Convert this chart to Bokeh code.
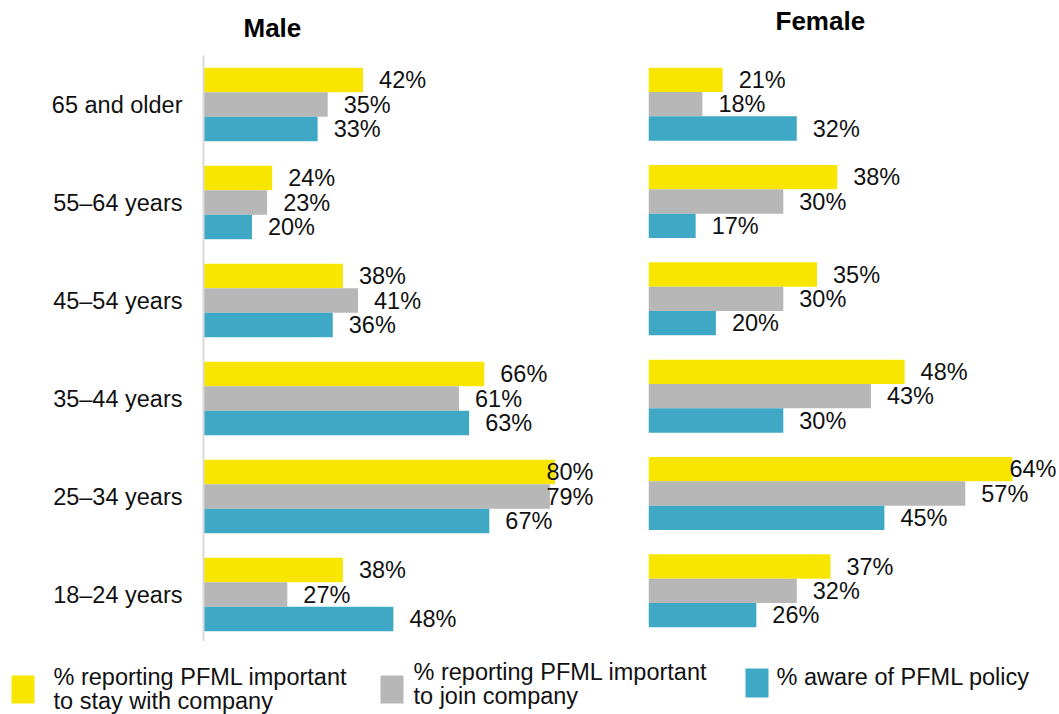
from bokeh.plotting import figure
from bokeh.models import ColumnDataSource, Range1d, FactorRange
from bokeh.layouts import row, column
from bokeh.transform import dodge
from bokeh.embed import file_html
from bokeh.resources import INLINE
from bokeh.core.properties import value, field

# ---------------- data ----------------
age_groups = ["18–24 years", "25–34 years", "35–44 years",
              "45–54 years", "55–64 years", "65 and older"]

panel_titles = ["Male", "Female"]

series_lines = [
    ["% reporting PFML important", "to stay with company"],
    ["% reporting PFML important", "to join company"],
    ["% aware of PFML policy"],
]
series_colors = ["#F9E600", "#B7B7B7", "#3FA9C5"]

male_stay = [38, 80, 66, 38, 24, 42]
male_join = [27, 79, 61, 41, 23, 35]
male_aware = [48, 67, 63, 36, 20, 33]

female_stay = [37, 64, 48, 35, 38, 21]
female_join = [32, 57, 43, 30, 30, 18]
female_aware = [26, 45, 30, 20, 17, 32]

FONT = "Liberation Sans"
TEXT = "#111111"
FS = "23.5px"
TOTAL_W = 1057


def bare(p):
    p.outline_line_color = None
    p.xgrid.visible = False
    p.ygrid.visible = False
    p.background_fill_color = "white"
    p.border_fill_color = "white"


def make_panel(values, x_start, x_end, frame_w, frame_h, borders, show_axis):
    left, right, top, bottom = borders
    p = figure(y_range=FactorRange(factors=age_groups),
               x_range=Range1d(x_start, x_end),
               frame_width=frame_w, frame_height=frame_h,
               min_border_left=left, min_border_right=right,
               min_border_top=top, min_border_bottom=bottom,
               output_backend="svg", toolbar_location=None)
    bare(p)
    p.xaxis.visible = False

    if show_axis:
        ax = p.yaxis[0]
        ax.axis_line_color = "#D9D9D9"
        ax.axis_line_width = 2
        ax.major_tick_line_color = None
        ax.minor_tick_line_color = None
        ax.major_tick_out = 0
        ax.major_tick_in = 0
        ax.major_label_standoff = 21
        ax.major_label_text_font = FONT
        ax.major_label_text_font_size = FS
        ax.major_label_text_color = TEXT
    else:
        p.yaxis.visible = False

    ppu = frame_w / (x_end - x_start)
    limit = x_start + (frame_w - 16 - 50) / ppu
    offsets = [0.25, 0.0, -0.25]
    for vals, color, off in zip(values, series_colors, offsets):
        fits = [v <= limit for v in vals]
        src = ColumnDataSource(dict(
            age=age_groups,
            val=vals,
            lx=[v if f else x_end for v, f in zip(vals, fits)],
            la=["left" if f else "right" for f in fits],
            lo=[16 if f else -1 for f in fits],
            txt=[f"{v}%" for v in vals],
        ))
        p.hbar(y=dodge("age", off, range=p.y_range), left=x_start, right="val",
               height=0.25, fill_color=color, line_color=None, source=src)
        p.text(x="lx", y=dodge("age", off, range=p.y_range), text="txt",
               text_align=field("la"), x_offset="lo", text_baseline="middle",
               text_font=value(FONT), text_font_size=FS, text_color=TEXT,
               source=src)
    return p


male = make_panel([male_stay, male_join, male_aware],
                  10.4, 10.4 + 391 / 5.05, 391, 588, (203, 44, 0, 0), True)
female = make_panel([female_stay, female_join, female_aware],
                    10.0, 10.0 + 409 / 6.74, 409, 584, (10, 0, 2, 2), False)

# ---------------- header (panel titles) ----------------
HH = 53
head = figure(frame_width=TOTAL_W, frame_height=HH, x_range=Range1d(0, TOTAL_W),
              y_range=Range1d(HH, 0), x_axis_type=None, y_axis_type=None,
              min_border=0, output_backend="svg", toolbar_location=None)
bare(head)
head.text(x=[243, 775], y=[27.5, 20.5], text=panel_titles, text_baseline="middle",
          text_align="left", text_font=value(FONT), text_font_size="26px",
          text_font_style="bold", text_color="#000000")

# ---------------- legend ----------------
LH = 73
leg = figure(frame_width=TOTAL_W, frame_height=LH, x_range=Range1d(0, TOTAL_W),
             y_range=Range1d(LH, 0), x_axis_type=None, y_axis_type=None,
             min_border=0, output_backend="svg", toolbar_location=None)
bare(leg)

sw_x = [22.5, 391.5, 756.5]
sw_y = [48, 48, 41.5]
sw_h = [28, 28, 29]
txt_x = [53, 413, 776]
txt_mid = [35.5, 30.5, 35.5]
line_gap = 24

leg.rect(x=sw_x, y=sw_y, width=23, height=sw_h, fill_color=series_colors,
         line_color=None)
tx, ty, tt = [], [], []
for lines, x0, y0 in zip(series_lines, txt_x, txt_mid):
    for k, ln in enumerate(lines):
        tx.append(x0)
        ty.append(y0 + k * line_gap)
        tt.append(ln)
leg.text(x=tx, y=ty, text=tt, text_baseline="middle", text_align="left",
         text_font=value(FONT), text_font_size=FS, text_color=TEXT)

layout = column(head, row(male, female), leg)
open("out.html", "w").write(file_html(layout, INLINE))
